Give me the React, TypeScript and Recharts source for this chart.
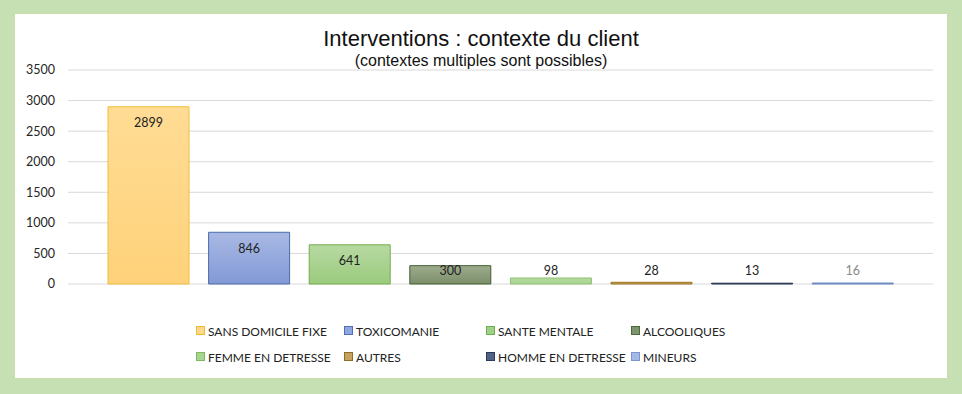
import React from 'react';
import { BarChart, Bar, XAxis, YAxis, CartesianGrid, LabelList } from 'recharts';

const seriesKeys = ['sdf', 'toxi', 'sante', 'alcoo', 'femme', 'autres', 'homme', 'mineurs'];
const seriesNames = [
  'SANS DOMICILE FIXE',
  'TOXICOMANIE',
  'SANTE MENTALE',
  'ALCOOLIQUES',
  'FEMME EN DETRESSE',
  'AUTRES',
  'HOMME EN DETRESSE',
  'MINEURS',
];
const seriesValues = [2899, 846, 641, 300, 98, 28, 13, 16];
const yTicks = [0, 500, 1000, 1500, 2000, 2500, 3000, 3500];

const topColors = ['#FFDC94', '#A9B9E4', '#B7D9A2', '#9DAC8E', '#B5DBA0', '#CDA960', '#3B4A68', '#8FA6D6'];
const bottomColors = ['#FFD27A', '#8299D6', '#9BCB7E', '#7B8E6A', '#A9D392', '#C69B4A', '#2E3D5C', '#7C96CE'];
const strokeColors = ['#F2BE3A', '#4C6BAA', '#72AD4C', '#435F30', '#8CC070', '#9B7426', '#263452', '#6B88C2'];
const labelColors = ['#222', '#222', '#222', '#222', '#222', '#222', '#222', '#8a8a8a'];
const legendFill = ['#FFD98A', '#8FA7DF', '#9FD089', '#7D9470', '#A9D592', '#C5A260', '#516283', '#A4B9E6'];
const legendStroke = ['#F0B93A', '#4F70B4', '#6EAE4C', '#4E6A3C', '#7DBA5E', '#8F6C28', '#2B3A5A', '#7A95CE'];

const row: Record<string, number | string> = { name: 'Interventions' };
seriesKeys.forEach((k, i) => {
  row[k] = seriesValues[i];
});
const data = [row];

const legendCols = [196, 344, 486, 631];
const legendRows = [331, 357];

const FONT = 'Lato, "Open Sans", sans-serif';

function makeLabel(color: string) {
  return (props: any) => {
    const { x, y, width, height, value } = props;
    const cy = Math.min(y + 16, y + height - 14);
    return (
      <text
        x={x + width / 2}
        y={cy}
        textAnchor="middle"
        dominantBaseline="central"
        fontFamily={FONT}
        fontSize={12.5}
        fill={color}
      >
        {value}
      </text>
    );
  };
}

export default function App() {
  return (
    <div style={{ position: 'absolute', left: 0, top: 0, width: 962, height: 394, background: '#C6E0B4', overflow: 'hidden' }}>
      <div style={{ position: 'absolute', left: 15, top: 14, width: 932, height: 364, background: '#FFFFFF' }} />
      <div style={{ position: 'absolute', left: 0, top: 0 }}>
        <BarChart
          width={962}
          height={394}
          data={data}
          margin={{ top: 70, right: 29, bottom: 110, left: 0 }}
          barCategoryGap={40}
          barGap={19.6}
        >
          <defs>
            {seriesKeys.map((k, i) => (
              <linearGradient key={k} id={`grad-${k}`} x1="0" y1="0" x2="0" y2="1">
                <stop offset="0%" stopColor={topColors[i]} />
                <stop offset="100%" stopColor={bottomColors[i]} />
              </linearGradient>
            ))}
          </defs>
          <CartesianGrid vertical={false} stroke="#D9D9D9" strokeWidth={1} />
          <XAxis dataKey="name" hide />
          <YAxis
            width={68}
            domain={[0, 3500]}
            ticks={yTicks}
            axisLine={false}
            tickLine={false}
            tickMargin={7}
            tick={{ fontFamily: FONT, fontSize: 12.5, fill: '#262626' }}
            interval={0}
          />
          {seriesKeys.map((k, i) => (
            <Bar
              key={k}
              dataKey={k}
              name={seriesNames[i]}
              fill={`url(#grad-${k})`}
              stroke={strokeColors[i]}
              strokeWidth={1}
              isAnimationActive={false}
            >
              <LabelList dataKey={k} content={makeLabel(labelColors[i])} />
            </Bar>
          ))}
        </BarChart>
      </div>
      <svg width={962} height={394} style={{ position: 'absolute', left: 0, top: 0, pointerEvents: 'none' }}>
        <text x={481} y={46} textAnchor="middle" fontFamily='"Liberation Sans", Arial, sans-serif' fontSize={22} fill="#111">
          Interventions : contexte du client
        </text>
        <text x={481} y={66} textAnchor="middle" fontFamily='"Liberation Sans", Arial, sans-serif' fontSize={16} fill="#111">
          (contextes multiples sont possibles)
        </text>
        {seriesNames.map((n, i) => {
          const cx = legendCols[i % 4];
          const cy = legendRows[Math.floor(i / 4)];
          return (
            <g key={n}>
              <rect x={cx + 0.5} y={cy - 4.5} width={8} height={8} fill={legendFill[i]} stroke={legendStroke[i]} strokeWidth={1} />
              <text x={cx + 12} y={cy} dominantBaseline="central" fontFamily={FONT} fontSize={12} fill="#222">
                {n}
              </text>
            </g>
          );
        })}
      </svg>
    </div>
  );
}
